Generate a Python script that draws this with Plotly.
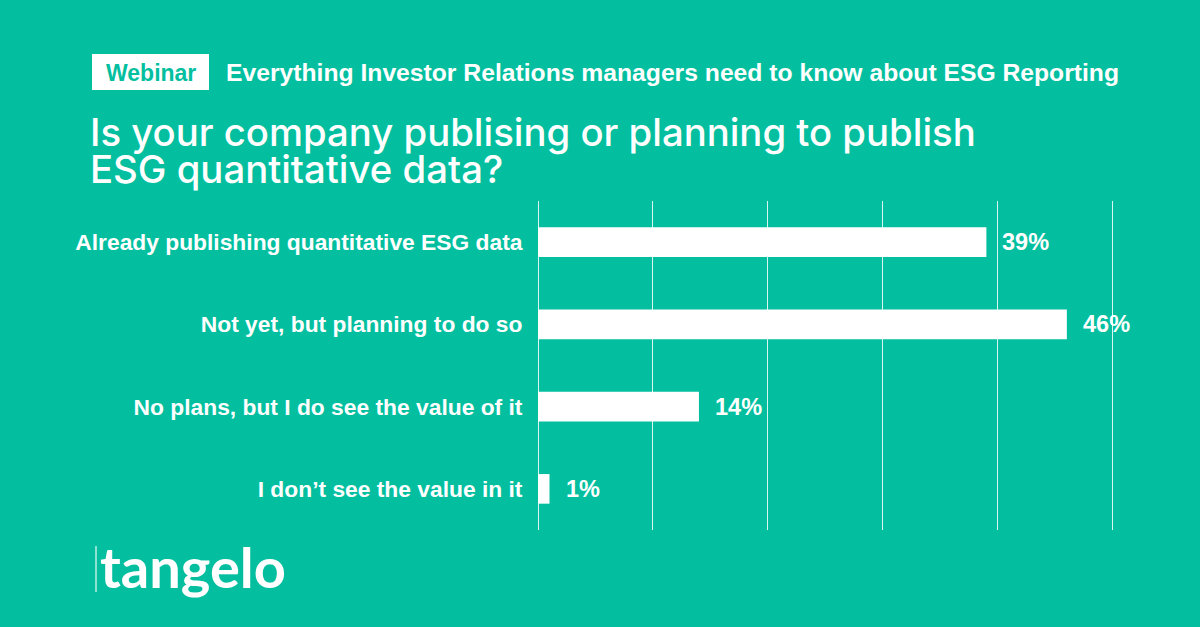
import plotly.graph_objects as go

# ---- data ----
categories = [
    "Already publishing quantitative ESG data",
    "Not yet, but planning to do so",
    "No plans, but I do see the value of it",
    "I don’t see the value in it",
]
values = [39, 46, 14, 1]
value_labels = ["39%", "46%", "14%", "1%"]
x_ticks = [0, 10, 20, 30, 40, 50]

tag_text = "Webinar"
subheader = "Everything Investor Relations managers need to know about ESG Reporting"
title_lines = ["Is your company publising or planning to publish", "ESG quantitative data?"]
logo_text = "tangelo"

# ---- style ----
BG = "#03BF9F"
W, H = 1200, 627
L, R, T, B = 538, 1114, 201, 530
X_MAX = 50.1
SANS = "Liberation Sans, Arial, sans-serif"


def px(x):
    return (x - L) / (R - L)


def py(y):
    return (B - y) / (B - T)


fig = go.Figure(
    go.Bar(
        x=values,
        y=categories,
        orientation="h",
        width=0.36,
        marker=dict(color="white", line=dict(width=0)),
        hoverinfo="skip",
    )
)

annotations = []
for c, v, lab in zip(categories, values, value_labels):
    annotations.append(dict(
        x=v, y=c, xref="x", yref="y", xanchor="left", yanchor="middle",
        xshift=14, text=lab, showarrow=False,
        font=dict(family=SANS, size=23.5, color="white", weight="bold"),
    ))

# header
annotations.append(dict(
    x=px(150.5), y=py(73), xref="paper", yref="paper", xanchor="center", yanchor="middle",
    text=tag_text, showarrow=False,
    font=dict(family=SANS, size=23, color=BG, weight="bold"),
))
annotations.append(dict(
    x=px(224), y=py(73), xref="paper", yref="paper", xanchor="left", yanchor="middle",
    text=subheader, showarrow=False,
    font=dict(family=SANS, size=24.7, color="white", weight="bold"),
))
for i, line in enumerate(title_lines):
    annotations.append(dict(
        x=px(88), y=py(132 + 37 * i), xref="paper", yref="paper", xanchor="left", yanchor="middle",
        text=line, showarrow=False,
        font=dict(family="Inter, " + SANS, size=38.3, color="white", weight=500),
    ))
annotations.append(dict(
    x=px(98), y=py(566), xref="paper", yref="paper", xanchor="left", yanchor="middle",
    text=logo_text, showarrow=False,
    font=dict(family="Lato, " + SANS, size=56, color="white", weight="bold"),
))

shapes = [
    dict(type="rect", xref="paper", yref="paper", x0=px(92), x1=px(209), y0=py(90), y1=py(54),
         fillcolor="white", line=dict(width=0), layer="below"),
    dict(type="line", xref="paper", yref="paper", x0=px(96), x1=px(96), y0=py(592), y1=py(546),
         line=dict(color="rgba(255,255,255,0.55)", width=2)),
]

fig.update_layout(
    width=W, height=H,
    margin=dict(l=L, r=W - R, t=T, b=H - B, pad=0),
    paper_bgcolor=BG, plot_bgcolor=BG,
    showlegend=False,
    annotations=annotations,
    shapes=shapes,
    xaxis=dict(
        range=[0, X_MAX], tickvals=x_ticks, showticklabels=False,
        showgrid=True, gridcolor="rgba(255,255,255,0.85)", gridwidth=1,
        zeroline=True, zerolinecolor="rgba(255,255,255,0.85)", zerolinewidth=1,
        showline=False, fixedrange=True,
    ),
    yaxis=dict(
        autorange="reversed", ticks="outside", ticklen=10, tickcolor="rgba(0,0,0,0)",
        tickfont=dict(family=SANS, size=22.8, color="white", weight="bold"),
        showgrid=False, zeroline=False, showline=False, fixedrange=True,
    ),
)

fig.write_html(
    "out.html",
    config={"displayModeBar": False},
    post_script="document.body.style.margin='0';document.body.style.background='" + BG + "';",
)
